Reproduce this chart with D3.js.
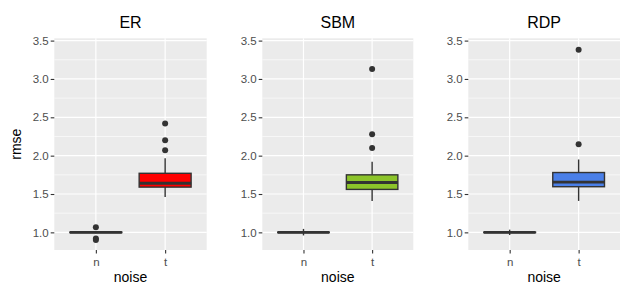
<!DOCTYPE html>
<html>
<head>
<meta charset="utf-8">
<script src="https://cdn.jsdelivr.net/npm/d3@7"></script>
<style>
  html, body { margin: 0; padding: 0; background: #ffffff; }
  svg { display: block; font-family: "Liberation Sans", Arial, Helvetica, sans-serif; }
</style>
</head>
<body>
<svg id="chart" width="635" height="300"></svg>
<script>
// ---- data ----
const panels = ["ER", "SBM", "RDP"];
const categories = ["n", "t"];
const yTicks = [1.0, 1.5, 2.0, 2.5, 3.0, 3.5];
const yMinorTicks = [1.25, 1.75, 2.25, 2.75, 3.25];
// per panel: [n, t]
const whiskerLow  = [[0.99, 1.46], [0.96, 1.41], [0.965, 1.41]];
const quartile1   = [[0.997, 1.59], [0.997, 1.56], [0.997, 1.595]];
const medians     = [[1.0, 1.64], [1.0, 1.65], [1.0, 1.655]];
const quartile3   = [[1.003, 1.77], [1.003, 1.75], [1.003, 1.78]];
const whiskerHigh = [[1.01, 1.965], [1.045, 1.92], [1.035, 1.95]];
const outliers    = [
  [[1.065, 0.92, 0.90], [2.07, 2.20, 2.42]],
  [[], [2.10, 2.28, 3.13]],
  [[], [2.15, 3.38]]
];
// ---- styles / layout ----
const fills = ["#FF0000", "#8CC42A", "#4A7FE8"];
const panelX = [[54.3, 206.7], [262.3, 413.3], [468.3, 620]];
const panelTop = 38.3, panelBottom = 250;

const svg = d3.select("#chart");
const y = d3.scaleLinear().domain([0.77, 3.53]).range([panelBottom, panelTop]);

panels.forEach((name, pi) => {
  const [x0, x1] = panelX[pi];
  const x = d3.scalePoint().domain(categories).range([x0, x1]).padding(0.6);
  const bw = x.step() * 0.75;
  const g = svg.append("g");

  // panel background
  g.append("rect").attr("x", x0).attr("y", panelTop)
    .attr("width", x1 - x0).attr("height", panelBottom - panelTop)
    .attr("fill", "#EBEBEB");

  // minor grid
  g.selectAll(".minor").data(yMinorTicks).join("line")
    .attr("x1", x0).attr("x2", x1)
    .attr("y1", d => y(d)).attr("y2", d => y(d))
    .attr("stroke", "#ffffff").attr("stroke-width", 0.6);
  // major grid
  g.selectAll(".major").data(yTicks).join("line")
    .attr("x1", x0).attr("x2", x1)
    .attr("y1", d => y(d)).attr("y2", d => y(d))
    .attr("stroke", "#ffffff").attr("stroke-width", 1.2);
  g.selectAll(".vmajor").data(categories).join("line")
    .attr("x1", d => x(d)).attr("x2", d => x(d))
    .attr("y1", panelTop).attr("y2", panelBottom)
    .attr("stroke", "#ffffff").attr("stroke-width", 1.2);

  // y axis
  const ya = g.append("g").attr("transform", `translate(${x0},0)`)
    .call(d3.axisLeft(y).tickValues(yTicks).tickFormat(d3.format(".1f")).tickSize(3.6).tickPadding(2));
  ya.select(".domain").remove();
  ya.selectAll(".tick line").attr("stroke", "#333333").attr("stroke-width", 1.1);
  ya.selectAll(".tick text").attr("fill", "#4D4D4D").style("font-size", "11.5px")
    .style("font-family", "'Liberation Sans', Arial, sans-serif");

  // x axis
  const xa = g.append("g").attr("transform", `translate(0,${panelBottom})`)
    .call(d3.axisBottom(x).tickSize(3.6).tickPadding(4.5));
  xa.select(".domain").remove();
  xa.selectAll(".tick line").attr("stroke", "#333333").attr("stroke-width", 1.1);
  xa.selectAll(".tick text").attr("fill", "#4D4D4D").style("font-size", "11.5px")
    .style("font-family", "'Liberation Sans', Arial, sans-serif");

  // boxes
  categories.forEach((c, ci) => {
    const cx = x(c);
    const bg = g.append("g");
    bg.append("line").attr("x1", cx).attr("x2", cx)
      .attr("y1", y(whiskerLow[pi][ci])).attr("y2", y(quartile1[pi][ci]))
      .attr("stroke", "#333333").attr("stroke-width", 1.4);
    bg.append("line").attr("x1", cx).attr("x2", cx)
      .attr("y1", y(quartile3[pi][ci])).attr("y2", y(whiskerHigh[pi][ci]))
      .attr("stroke", "#333333").attr("stroke-width", 1.4);
    bg.append("rect").attr("x", cx - bw / 2).attr("width", bw)
      .attr("y", y(quartile3[pi][ci]))
      .attr("height", y(quartile1[pi][ci]) - y(quartile3[pi][ci]))
      .attr("fill", fills[pi]).attr("stroke", "#333333").attr("stroke-width", 1.4);
    bg.append("line").attr("x1", cx - bw / 2).attr("x2", cx + bw / 2)
      .attr("y1", y(medians[pi][ci])).attr("y2", y(medians[pi][ci]))
      .attr("stroke", "#333333").attr("stroke-width", 2.9);
    bg.selectAll("circle").data(outliers[pi][ci]).join("circle")
      .attr("cx", cx).attr("cy", d => y(d)).attr("r", 3)
      .attr("fill", "#333333");
  });

  // title
  svg.append("text").attr("x", (x0 + x1) / 2).attr("y", 27.7)
    .attr("text-anchor", "middle").style("font-size", "16px").attr("fill", "#000")
    .text(name);
  // x axis title
  svg.append("text").attr("x", (x0 + x1) / 2).attr("y", 282.3)
    .attr("text-anchor", "middle").style("font-size", "14px").attr("fill", "#000")
    .text("noise");
  if (pi === 0) {
    svg.append("text")
      .attr("transform", `translate(21,${(panelTop + panelBottom) / 2}) rotate(-90)`)
      .attr("text-anchor", "middle").style("font-size", "14px").attr("fill", "#000")
      .text("rmse");
  }
});
</script>
</body>
</html>
